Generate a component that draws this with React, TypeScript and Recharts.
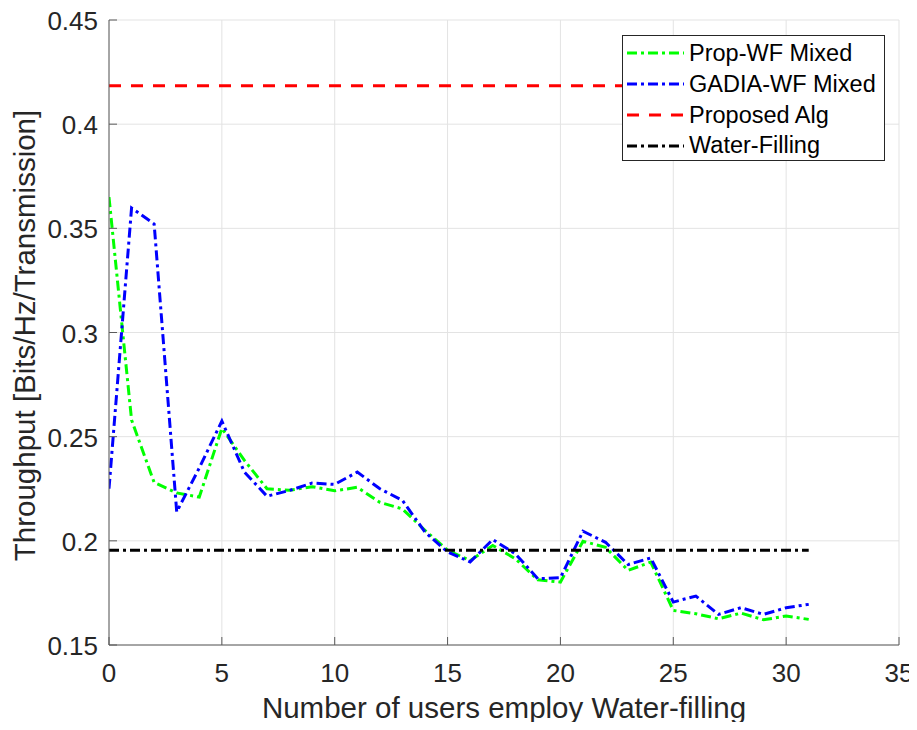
import React from 'react';
import { LineChart, Line, XAxis, YAxis, CartesianGrid, Legend } from 'recharts';

// ---- data ----
const users = [0, 1, 2, 3, 4, 5, 6, 7, 8, 9, 10, 11, 12, 13, 14, 15, 16, 17, 18, 19, 20, 21, 22, 23, 24, 25, 26, 27, 28, 29, 30, 31];
const propWF = [0.365, 0.258, 0.228, 0.223, 0.221, 0.254, 0.2386, 0.225, 0.2243, 0.226, 0.224, 0.2257, 0.2185, 0.2153, 0.205, 0.1955, 0.1905, 0.1978, 0.1914, 0.1813, 0.1802, 0.1998, 0.1969, 0.1858, 0.1898, 0.1666, 0.165, 0.1626, 0.1653, 0.1621, 0.1639, 0.1623];
const gadiaWF = [0.225, 0.3598, 0.3521, 0.2139, 0.235, 0.2575, 0.233, 0.2214, 0.2242, 0.2277, 0.2271, 0.233, 0.225, 0.2194, 0.2042, 0.1946, 0.1899, 0.2006, 0.1938, 0.1818, 0.1823, 0.2046, 0.1993, 0.1886, 0.1918, 0.1706, 0.1735, 0.1647, 0.1679, 0.1647, 0.1679, 0.1695];
const proposedAlg = 0.4185;
const waterFilling = 0.1955;
const xTicks = [0, 5, 10, 15, 20, 25, 30, 35];
const yTicks = [0.15, 0.2, 0.25, 0.3, 0.35, 0.4, 0.45];
const xLabel = 'Number of users employ Water-filling';
const yLabel = 'Throughput [Bits/Hz/Transmission]';

const data = users.map((u, i) => ({
  users: u,
  prop: propWF[i],
  gadia: gadiaWF[i],
  proposed: proposedAlg,
  wf: waterFilling,
}));

// ---- styles ----
const FONT = '"Liberation Sans", Arial, Helvetica, sans-serif';
const TEXT = '#262626';
const AXIS = '#5a5a5a';
const GRID = '#e3e3e3';

const series = [
  { key: 'prop', name: 'Prop-WF Mixed', color: '#00ff00', dash: '10 4 3 4' },
  { key: 'gadia', name: 'GADIA-WF Mixed', color: '#0000ff', dash: '10 4 3 4' },
  { key: 'proposed', name: 'Proposed Alg', color: '#ff0000', dash: '12 10' },
  { key: 'wf', name: 'Water-Filling', color: '#000000', dash: '10 4 3 4' },
];

const BottomTick = (props: any) => {
  const { x, y, payload } = props;
  return (
    <g>
      <line x1={x} y1={y} x2={x} y2={y - 8} stroke={AXIS} strokeWidth={1} />
      <text x={x} y={y + 37} textAnchor="middle" fontSize={26} fill={TEXT} fontFamily={FONT}>
        {String(payload.value)}
      </text>
    </g>
  );
};

const TopTick = (props: any) => {
  const { x, y } = props;
  return <line x1={x} y1={y} x2={x} y2={y + 8} stroke={AXIS} strokeWidth={1} />;
};

const LeftTick = (props: any) => {
  const { x, y, payload } = props;
  return (
    <g>
      <line x1={x} y1={y} x2={x + 8} y2={y} stroke={AXIS} strokeWidth={1} />
      <text x={x - 11} y={y + 10} textAnchor="end" fontSize={26} fill={TEXT} fontFamily={FONT}>
        {String(payload.value)}
      </text>
    </g>
  );
};

const RightTick = (props: any) => {
  const { x, y } = props;
  return <line x1={x} y1={y} x2={x - 8} y2={y} stroke={AXIS} strokeWidth={1} />;
};

const renderXLabel = (props: any) => {
  const vb = props.viewBox || { x: 101, y: 637, width: 790, height: 77 };
  return (
    <text x={vb.x + vb.width / 2} y={vb.y + 73} textAnchor="middle" fontSize={29.5} fill={TEXT} fontFamily={FONT}>
      {xLabel}
    </text>
  );
};

const renderYLabel = (props: any) => {
  const vb = props.viewBox || { x: 0, y: 12, width: 101, height: 625 };
  const cx = vb.x + 27;
  const cy = vb.y + vb.height / 2 + 3;
  return (
    <text x={cx} y={cy} transform={`rotate(-90 ${cx} ${cy})`} textAnchor="middle" fontSize={29.5} fill={TEXT} fontFamily={FONT}>
      {yLabel}
    </text>
  );
};

const renderLegend = () => (
  <div
    style={{
      width: 263,
      height: 126,
      boxSizing: 'border-box',
      border: '1px solid #262626',
      background: '#ffffff',
      paddingTop: 2,
      fontFamily: FONT,
    }}
  >
    {series.map((s) => (
      <div key={s.key} style={{ display: 'flex', alignItems: 'center', height: 30.8 }}>
        <svg width={57} height={10} style={{ marginLeft: 4, display: 'block' }}>
          <line x1={0} y1={5} x2={57} y2={5} stroke={s.color} strokeWidth={3} strokeDasharray={s.dash} />
        </svg>
        <span style={{ marginLeft: 5, fontSize: 23.5, color: '#000', whiteSpace: 'nowrap', lineHeight: '30.8px' }}>{s.name}</span>
      </div>
    ))}
  </div>
);

export default function App() {
  return (
    <div style={{ width: 901, height: 714 }}>
      <style>{'svg.recharts-surface { overflow: visible; }'}</style>
      <LineChart width={909} height={722} data={data} margin={{ top: 12, right: 18, left: 0, bottom: 8 }}>
        <CartesianGrid stroke={GRID} strokeWidth={1} />
        <XAxis
          dataKey="users"
          type="number"
          domain={[0, 35]}
          ticks={xTicks}
          interval={0}
          allowDataOverflow
          height={77}
          tickSize={0}
          tickMargin={0}
          tickLine={false}
          axisLine={{ stroke: AXIS, strokeWidth: 1 }}
          tick={<BottomTick />}
          label={renderXLabel}
        />
        <XAxis
          xAxisId="top"
          orientation="top"
          type="number"
          domain={[0, 35]}
          ticks={xTicks}
          interval={0}
          allowDataOverflow
          height={0}
          tickSize={0}
          tickMargin={0}
          tickLine={false}
          axisLine={{ stroke: AXIS, strokeWidth: 1 }}
          tick={<TopTick />}
        />
        <YAxis
          type="number"
          domain={[0.15, 0.45]}
          ticks={yTicks}
          interval={0}
          allowDataOverflow
          width={101}
          tickSize={0}
          tickMargin={0}
          tickLine={false}
          axisLine={{ stroke: AXIS, strokeWidth: 1 }}
          tick={<LeftTick />}
          label={renderYLabel}
        />
        <YAxis
          yAxisId="right"
          orientation="right"
          type="number"
          domain={[0.15, 0.45]}
          ticks={yTicks}
          interval={0}
          allowDataOverflow
          width={0}
          tickSize={0}
          tickMargin={0}
          tickLine={false}
          axisLine={{ stroke: AXIS, strokeWidth: 1 }}
          tick={<RightTick />}
        />
        {series.map((s) => (
          <Line
            key={s.key}
            type="linear"
            dataKey={s.key}
            name={s.name}
            stroke={s.color}
            strokeWidth={3}
            strokeDasharray={s.dash}
            dot={false}
            activeDot={false}
            isAnimationActive={false}
          />
        ))}
        <Legend
          layout="vertical"
          align="center"
          verticalAlign="middle"
          content={renderLegend}
          wrapperStyle={{ position: 'absolute', left: 614, top: 27, width: 263, height: 126 }}
        />
      </LineChart>
    </div>
  );
}
